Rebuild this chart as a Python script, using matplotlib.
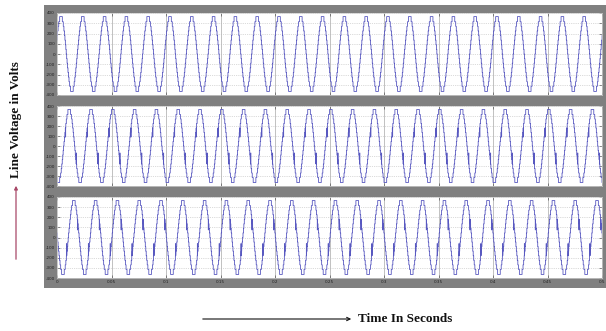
import numpy as np
import matplotlib
matplotlib.use("Agg")
import matplotlib.pyplot as plt
from matplotlib.patches import Rectangle, FancyArrowPatch

# ---------------- data ----------------
period_s = 0.02            # 50 Hz, 25 cycles in 0.5 s
n_cycles = 25
# quarter-wave staircase of the multilevel inverter line voltage
quarter_switch_deg = [3.5, 10.5, 17.7, 25.2, 33.2, 42.0, 52.3, 68.0]
quarter_levels_v = [45, 90, 135, 180, 225, 270, 315, 365]
# phase of each line voltage (deg) and its notches (start deg, end deg, level V)
phase_ab = 24
phase_bc = -112
phase_ca = 172
notches_ab = [(64, 67, 315), (240, 243, -315), (296, 298, -315)]
notches_bc = [(28, 31, 90), (64, 66, 315), (206, 209, -70), (244, 247, -315)]
notches_ca = [(150, 153, 75), (114, 116, 315), (330, 333, -60), (294, 296, -315)]
y_ticks = [-400, -300, -200, -100, 0, 100, 200, 300, 400]
x_ticks = [0, 0.05, 0.1, 0.15, 0.2, 0.25, 0.3, 0.35, 0.4, 0.45, 0.5]
x_tick_labels = ["0", "0.05", "0.1", "0.15", "0.2", "0.25", "0.3", "0.35", "0.4", "0.45", "0.5"]


def base_level(th):
    th = th % 360
    sign = 1.0 if th < 180 else -1.0
    h = th % 180
    q = min(h, 180 - h)
    idx = np.searchsorted(quarter_switch_deg, q, side="right")
    return sign * ([0] + quarter_levels_v)[idx]


def level_at(th, notches):
    for a0, a1, lv in notches:
        if a0 <= th < a1:
            return lv
    return base_level(th)


def waveform(phase, notches):
    sw = np.array(quarter_switch_deg, float)
    edges = np.concatenate([[0.0], sw, 180 - sw, 180 + sw, 360 - sw])
    for a0, a1, _ in notches:
        edges = np.append(edges, [a0, a1])
    edges = np.unique(edges)
    mids = (edges + np.append(edges[1:], 360.0)) / 2
    lv = np.array([level_at(m, notches) for m in mids])
    ts, vs = [], []
    for k in range(-2, n_cycles + 2):
        ts.append((edges - phase) / 360.0 * period_s + k * period_s)
        vs.append(lv)
    return np.concatenate(ts), np.concatenate(vs)


W, H = 606, 331
fig = plt.figure(figsize=(W / 100, H / 100), dpi=100)
fig.patch.set_facecolor("white")

# gray scope frame
fig.add_artist(Rectangle((44 / W, 1 - 288 / H), (606 - 44) / W, 283 / H,
                         transform=fig.transFigure, facecolor="#808080",
                         edgecolor="none", zorder=0))

panels = [(13, 95, phase_ab, notches_ab),
          (106, 186, phase_bc, notches_bc),
          (197, 278, phase_ca, notches_ca)]
left, right = 57, 602
for i, (top, bot, ph, nt) in enumerate(panels):
    ax = fig.add_axes([left / W, 1 - bot / H, (right - left) / W, (bot - top) / H])
    ax.set_facecolor("white")
    t, v = waveform(ph, nt)
    ax.plot(t, v, drawstyle="steps-post", color="#5858c0", lw=0.6)
    ax.set_xlim(0, 0.5)
    ax.set_ylim(-400, 400)
    ax.set_yticks(y_ticks)
    ax.set_yticklabels([str(y) for y in y_ticks])
    ax.set_xticks(x_ticks)
    if i == 2:
        ax.set_xticklabels(x_tick_labels)
    else:
        ax.set_xticklabels([])
    ax.tick_params(direction="in", length=2, width=0.4, color="#404040",
                   labelsize=3, labelcolor="#202020", pad=1.5,
                   right=True, top=True)
    ax.grid(axis="y", linestyle=":", color="#b8b8b8", lw=0.5)
    ax.grid(axis="x", linestyle="-", color="#a8a8a8", lw=0.5)
    for s in ax.spines.values():
        s.set_color("#d0d0d0")
        s.set_linewidth(0.5)

# y label with arrow
fig.add_artist(FancyArrowPatch((16 / W, 1 - 262 / H), (16 / W, 1 - 183 / H),
                               transform=fig.transFigure, arrowstyle="-|>",
                               mutation_scale=5, color="#a84868", lw=0.9))
fig.text(16 / W, 1 - 120 / H, "Line Voltage in Volts", rotation=90,
         ha="center", va="center", family="Liberation Serif",
         fontweight="bold", fontsize=9.5, color="#111111")

# x label with arrow
fig.add_artist(FancyArrowPatch((200 / W, 1 - 319 / H), (354 / W, 1 - 319 / H),
                               transform=fig.transFigure, arrowstyle="->",
                               mutation_scale=6, color="#111111", lw=0.8))
fig.text(358 / W, 1 - 319 / H, "Time In Seconds", ha="left", va="center",
         family="Liberation Serif", fontweight="bold", fontsize=9.5,
         color="#111111")

fig.savefig("out.png", dpi=100)
